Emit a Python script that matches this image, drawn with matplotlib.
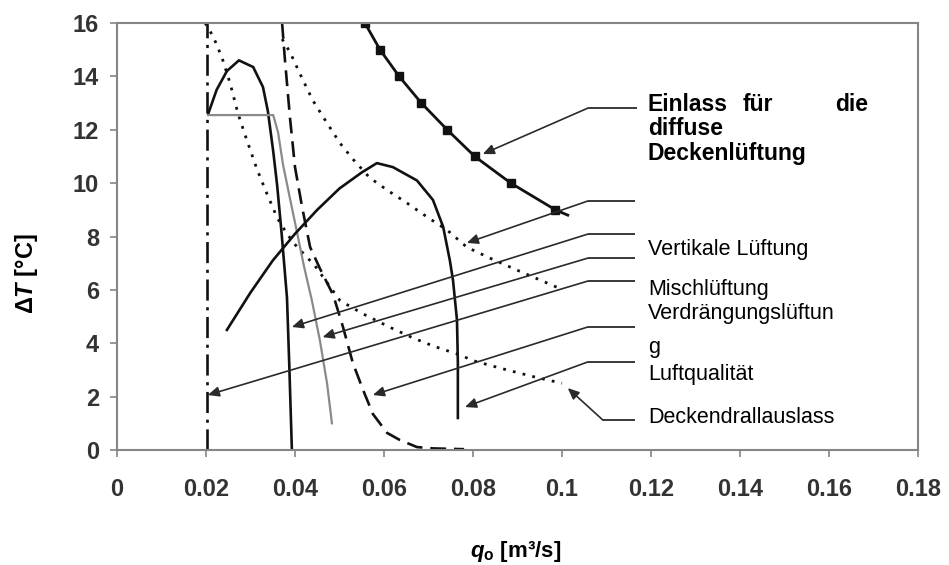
import matplotlib
matplotlib.use('Agg')
import matplotlib.pyplot as plt

plt.rcParams['font.family'] = ['Liberation Sans', 'DejaVu Sans']
plt.rcParams['mathtext.fontset'] = 'custom'
plt.rcParams['mathtext.rm'] = 'Liberation Sans:bold'
plt.rcParams['mathtext.it'] = 'Liberation Sans:italic:bold'
plt.rcParams['mathtext.bf'] = 'Liberation Sans:bold'

# ---------------- data ----------------
x_ticks = [0, 0.02, 0.04, 0.06, 0.08, 0.1, 0.12, 0.14, 0.16, 0.18]
x_tick_labels = ['0', '0.02', '0.04', '0.06', '0.08', '0.1', '0.12', '0.14', '0.16', '0.18']
y_ticks = [0, 2, 4, 6, 8, 10, 12, 14, 16]
y_tick_labels = ['0', '2', '4', '6', '8', '10', '12', '14', '16']

# Einlass fuer die diffuse Deckenlueftung (line with square markers)
einlass_x = [0.0557, 0.0591, 0.0634, 0.0684, 0.0742, 0.0804, 0.0885, 0.0985]
einlass_y = [16.0, 15.0, 14.0, 13.0, 12.0, 11.0, 10.0, 9.0]
einlass_end_x = [0.0985, 0.1013]
einlass_end_y = [9.0, 8.8]

# dotted curve starting at q=0.037 (upper)
dot_upper_x = [0.0371, 0.0389, 0.0411, 0.0440, 0.0472, 0.0501, 0.0530, 0.0568,
               0.0607, 0.0652, 0.0697, 0.0742, 0.0786, 0.0838, 0.0899, 0.0966, 0.1002]
dot_upper_y = [15.4, 14.9, 14.1, 13.1, 12.25, 11.5, 10.9, 10.2,
               9.74, 9.25, 8.73, 8.24, 7.6, 7.19, 6.74, 6.26, 6.0]

# Deckendrallauslass (dotted curve starting at q=0.02)
drall_x = [0.0198, 0.0216, 0.0236, 0.0254, 0.0272, 0.0292, 0.0315, 0.0337, 0.0360,
           0.0382, 0.0400, 0.0445, 0.0501, 0.0553, 0.0613, 0.0665, 0.0710, 0.0771,
           0.0800, 0.0865, 0.0940, 0.1000]
drall_y = [16.0, 15.5, 14.7, 13.75, 12.6, 11.6, 10.5, 9.6, 8.7,
           8.1, 7.7, 6.9, 5.6, 5.1, 4.6, 4.2, 3.9, 3.56,
           3.35, 3.05, 2.73, 2.5]

# first solid hump (drops to zero at q~0.039)
hump1_x = [0.0205, 0.0224, 0.0247, 0.0274, 0.0306, 0.0328, 0.0339, 0.0351,
           0.0360, 0.0370, 0.0382, 0.0387, 0.0393]
hump1_y = [12.6, 13.5, 14.2, 14.6, 14.35, 13.6, 12.7, 11.2,
           9.9, 8.1, 5.7, 3.25, 0.0]

# thin grey line
grey_x = [0.0205, 0.0351, 0.0362, 0.0373, 0.0389, 0.0404, 0.0420, 0.0438,
          0.0456, 0.0472, 0.0483]
grey_y = [12.55, 12.55, 11.9, 10.7, 9.4, 8.2, 6.9, 5.6,
          4.1, 2.5, 1.0]

# dash-dot vertical line
dashdot_x = [0.0202, 0.0202]
dashdot_y = [0.0, 16.0]

# dashed curve
dashed_x = [0.0371, 0.0377, 0.0389, 0.0400, 0.0416, 0.0434, 0.0456, 0.0486,
            0.0508, 0.0530, 0.0553, 0.0575, 0.0607, 0.0636, 0.0674, 0.0710, 0.0780]
dashed_y = [16.0, 14.7, 12.4, 10.6, 9.1, 7.6, 6.8, 5.8,
            4.6, 3.26, 2.25, 1.35, 0.64, 0.37, 0.11, 0.06, 0.03]

# second solid hump (ends at q~0.077)
hump2_x = [0.0247, 0.0300, 0.0350, 0.0400, 0.0450, 0.0500, 0.0550, 0.0584,
           0.0620, 0.0674, 0.0710, 0.0733, 0.0748, 0.0755, 0.0764, 0.0766, 0.0766]
hump2_y = [4.5, 5.9, 7.1, 8.1, 9.0, 9.8, 10.4, 10.75,
           10.6, 10.1, 9.37, 8.36, 7.1, 6.37, 4.87, 3.26, 1.2]

# label texts
label_einlass = ['Einlass', 'für', 'die', 'diffuse', 'Deckenlüftung']
label_names = ['Vertikale Lüftung', 'Mischlüftung', 'Verdrängungslüftun', 'g',
               'Luftqualität', 'Deckendrallauslass']

# ---------------- figure ----------------
fig = plt.figure(figsize=(9.49, 5.65), dpi=100)
ax = fig.add_axes([117 / 949, 1 - 450 / 565, (918 - 117) / 949, (450 - 23) / 565])
ax.set_xlim(0, 0.18)
ax.set_ylim(0, 16)

blk = '#111111'
ax.plot(einlass_end_x, einlass_end_y, color=blk, lw=2.0)
ax.plot(einlass_x, einlass_y, color=blk, lw=2.0, marker='s', ms=5.5)
ax.plot(dot_upper_x, dot_upper_y, color=blk, lw=2.0, ls=(0, (1, 2.6)))
ax.plot(drall_x, drall_y, color=blk, lw=2.0, ls=(0, (1, 2.6)))
ax.plot(hump1_x, hump1_y, color=blk, lw=1.9)
ax.plot(grey_x, grey_y, color='#8a8a8a', lw=1.6)
ax.plot(dashdot_x, dashdot_y, color=blk, lw=1.9, ls=(0, (8, 2.5, 1.2, 2.5)))
ax.plot(dashed_x, dashed_y, color=blk, lw=1.9, ls=(0, (6, 3)))
ax.plot(hump2_x, hump2_y, color=blk, lw=1.9)

# leader lines: (start of horizontal, end of horizontal, y, arrow tip)
leaders = [
    (0.1058, 0.1168, 12.81, (0.0822, 11.09)),
    (0.1058, 0.1164, 9.33, (0.0786, 7.76)),
    (0.1058, 0.1164, 8.09, (0.0393, 4.61)),
    (0.1058, 0.1164, 7.19, (0.0462, 4.23)),
    (0.1058, 0.1164, 6.33, (0.0204, 2.06)),
    (0.1058, 0.1164, 4.61, (0.0575, 2.06)),
    (0.1058, 0.1164, 3.30, (0.0782, 1.61)),
    (0.1092, 0.1164, 1.12, (0.1013, 2.32)),
]
lc = '#2a2a2a'
for x0, x1, yl, tip in leaders:
    ax.plot([x0, x1], [yl, yl], color=lc, lw=1.3, solid_capstyle='butt')
    ax.annotate('', xy=tip, xytext=(x0, yl),
                arrowprops=dict(arrowstyle='-|>,head_length=0.45,head_width=0.2',
                                color=lc, lw=1.2, mutation_scale=15,
                                shrinkA=0, shrinkB=0))

# labels
tx = 0.1193
bold_kw = dict(fontsize=16.5, fontweight='bold', color='black', va='baseline')
ax.text(tx, 12.70, label_einlass[0], ha='left', **bold_kw)
ax.text(0.1407, 12.70, label_einlass[1], ha='left', **bold_kw)
ax.text(0.1688, 12.70, label_einlass[2], ha='right', **bold_kw)
ax.text(tx, 11.80, label_einlass[3], ha='left', **bold_kw)
ax.text(tx, 10.87, label_einlass[4], ha='left', **bold_kw)

reg_kw = dict(fontsize=15.5, color='black', va='baseline', ha='left')
label_y = [7.31, 5.81, 4.90, 3.63, 2.62, 1.01]
for name, yy in zip(label_names, label_y):
    ax.text(tx, yy, name, **reg_kw)

# axes styling
spine_c = '#858585'
for s in ax.spines.values():
    s.set_color(spine_c)
    s.set_linewidth(1.5)
ax.set_xticks(x_ticks)
ax.set_xticklabels(x_tick_labels)
ax.set_yticks(y_ticks)
ax.set_yticklabels(y_tick_labels)
ax.tick_params(axis='both', direction='out', length=5, width=1.2, color=spine_c,
               labelcolor='#333333', labelsize=17)
ax.tick_params(axis='x', pad=15)
ax.tick_params(axis='y', pad=8)
for lab in ax.get_xticklabels() + ax.get_yticklabels():
    lab.set_fontweight('bold')

fig.text(27 / 949, 1 - 274 / 565, r'$\Delta T$ [°C]', rotation=90, ha='center',
         va='center', fontsize=17, fontweight='bold')
fig.text(516 / 949, 1 - 552 / 565, r'$q_\mathrm{o}$ [m³/s]', ha='center',
         va='center', fontsize=16, fontweight='bold')

fig.savefig('out.png', dpi=100, facecolor='white')
